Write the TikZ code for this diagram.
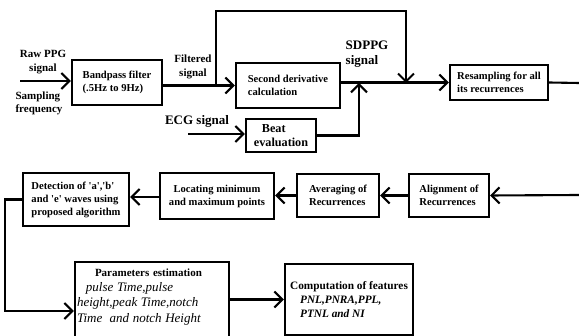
\documentclass[tikz,border=0pt]{standalone}
\usepackage{fontspec}
\setmainfont{Liberation Serif}
\usepackage{tikz}
\usetikzlibrary{arrows.meta, positioning, calc}
\newcommand{\q}{\textquotesingle}

\begin{document}
\begin{tikzpicture}[
    x=1pt, y=-1pt,
    box/.style={draw=black, line width=2.1pt, inner sep=0pt, align=left, font=\fontsize{10.6}{13}\selectfont\bfseries},
    lbl/.style={align=left, inner sep=0pt, font=\fontsize{11}{13.5}\selectfont\bfseries},
    big/.style={font=\fontsize{13}{15.5}\selectfont\bfseries},
    wire/.style={line width=2.1pt},
    arr/.style={wire, -{Straight Barb[length=8pt, width=16pt]}}
  ]
    \useasboundingbox (0,0) rectangle (579,336);
    \clip (0,0) rectangle (579,336);

    % Top row
    \node[box, minimum width=90pt, minimum height=45pt] (bpf) at (117, 82.5) {Bandpass filter\\(.5Hz to 9Hz)};
    \node[box, minimum width=104pt, minimum height=45pt] (sdc) at (288, 85.5) {Second derivative\\calculation};
    \node[box, minimum width=70pt, minimum height=33pt, font=\fontsize{12.2}{14}\selectfont\bfseries] (beat) at (281, 135.5) {\hspace*{8pt}Beat\\evaluation};
    \node[box, minimum width=98pt, minimum height=35pt] (resamp) at (499, 82.5) {Resampling for all\\its recurrences};

    % Middle row
    \node[box, minimum width=106pt, minimum height=53pt] (detect) at (76, 199.5) {Detection of \q a\q,\q b\q\\and \q e\q\ waves using\\proposed algorithm};
    \node[box, minimum width=114pt, minimum height=46pt, align=center] (locate) at (217, 196) {Locating minimum\\and maximum points};
    \node[box, minimum width=82pt, minimum height=43pt] (avg) at (338, 195.5) {Averaging of\\Recurrences};
    \node[box, minimum width=80pt, minimum height=43pt] (align) at (449, 195.5) {Alignment of\\Recurrences};

    % Bottom row
    \node[box, anchor=north, text width=150pt, inner xsep=2pt, inner ysep=7pt, font=\fontsize{11}{16}\selectfont\bfseries] (param) at (152, 261)
      {\hspace*{18pt}Parameters estimation\\
      \fontsize{13}{15}\selectfont\mdseries\itshape\hspace*{9pt}pulse Time,pulse\\
      \fontsize{13}{15}\selectfont\mdseries\itshape height,peak Time,notch\\
      \fontsize{13}{15}\selectfont\mdseries\itshape Time\ \ and notch Height\rule[-24pt]{0pt}{0pt}};
    \node[box, minimum width=128pt, minimum height=71pt, font=\fontsize{11.3}{14}\selectfont\bfseries] (comp) at (349, 299.5)
      {Computation of features\\
      \itshape\hspace*{10pt}PNL,PNRA,PPL,\\
      \itshape\hspace*{10pt}PTNL and NI};

    % Labels
    \node[lbl, align=center] (raw) at (43, 62) {Raw PPG\\signal};
    \node[lbl] (fs) at (39, 103.5) {Sampling\\frequency};
    \node[lbl, align=center] (filt) at (193, 67) {Filtered\\signal};
    \node[lbl, big] (sdppg) at (367, 54) {SDPPG\\signal};
    \node[lbl, big] (ecg) at (197, 121) {ECG signal};

    % Free ends and corners
    \coordinate (rawin) at (20, 81);
    \coordinate (fsplit) at (216, 85.5);
    \coordinate (ftop) at (216, 11);
    \coordinate (merge) at (406, 83);
    \coordinate (join) at (359, 83);
    \coordinate (ecgin) at (188, 134);
    \coordinate (rsout) at (579, 83);
    \coordinate (alin) at (579, 195);
    \coordinate (lcorner) at (5, 311);

    % Top row flow
    \draw[arr] (rawin) -- (bpf.west |- rawin);
    \draw[arr] (bpf.east |- sdc.west) -- (sdc.west);
    \draw[arr] (fsplit) -- (ftop) -| (merge);
    \draw[arr] (sdc.east |- resamp.west) -- (resamp.west);
    \draw[arr] (beat.east) -| (join);
    \draw[arr] (ecgin) -- (beat.west |- ecgin);
    \draw[wire] (resamp.east) -- (rsout);

    % Middle row flow
    \draw[arr] (alin) -- (align.east);
    \draw[arr] (align.west) -- (avg.east);
    \draw[arr] (avg.west) -- (locate.east |- avg.west);
    \draw[arr] (locate.west |- 0,197) -- (detect.east |- 0,197);

    % Down to parameters
    \draw[arr] (detect.west) -| (lcorner) -- (param.west |- lcorner);
    \draw[arr] (param.east |- comp.west) -- (comp.west);
  \end{tikzpicture}
\end{document}
